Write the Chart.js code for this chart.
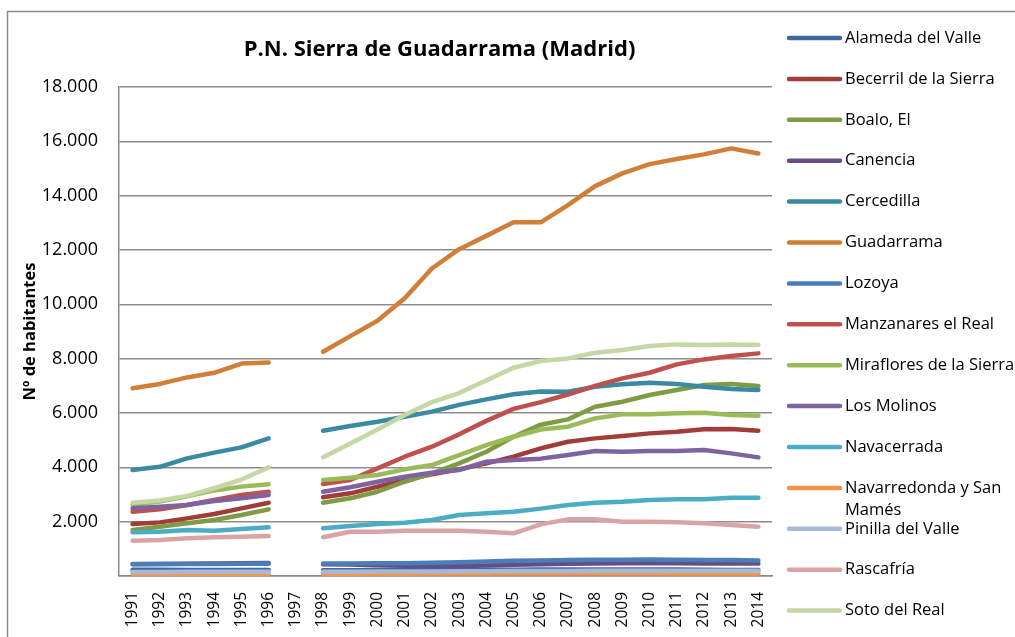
<!DOCTYPE html>
<html>
<head>
<meta charset="utf-8">
<script src="https://cdn.jsdelivr.net/npm/chart.js@4.4.0/dist/chart.umd.min.js"></script>
<style>
  html, body { margin: 0; padding: 0; background: #fff; }
  #c { display: block; }
</style>
</head>
<body>
<canvas id="c" width="1015" height="637"></canvas>
<script>
// years on the x axis (1997 has no data -> gap)
const years = ['1991','1992','1993','1994','1995','1996','1997','1998','1999','2000','2001','2002',
  '2003','2004','2005','2006','2007','2008','2009','2010','2011','2012','2013','2014'];

const municipios = ['Alameda del Valle','Becerril de la Sierra','Boalo, El','Canencia','Cercedilla',
  'Guadarrama','Lozoya','Manzanares el Real','Miraflores de la Sierra','Los Molinos','Navacerrada',
  'Navarredonda y San Mamés','Pinilla del Valle','Rascafría','Soto del Real'];

const colores = ['#3d69a0','#a03d3b','#7f9c45','#664d85','#3a8ba1','#d17e38','#4a7ebb','#c0504d',
  '#9bbb59','#7f63a1','#4bacc6','#f79646','#a7b9d9','#d9a5a4','#c4d7a4'];

const alameda      = [230,230,225,225,220,220,null,215,215,220,220,225,225,230,230,235,235,240,240,235,235,230,225,220];
const becerril     = [1914,1974,2122,2282,2490,2697,null,2896,3043,3286,3533,3742,3926,4147,4391,4700,4943,5066,5152,5250,5311,5398,5410,5348];
const boalo        = [1693,1815,1938,2061,2245,2454,null,2698,2859,3102,3470,3779,4147,4574,5126,5570,5766,6230,6414,6661,6845,7029,7066,6992];
const canencia     = [430,440,450,460,470,480,null,430,420,400,380,370,370,390,410,430,450,460,470,470,465,460,460,460];
const cercedilla   = [3900,4020,4330,4540,4735,5065,null,5348,5520,5680,5863,6050,6300,6500,6690,6790,6784,6966,7060,7110,7066,6970,6880,6845];
const guadarrama   = [6910,7070,7310,7480,7820,7860,null,8255,8830,9395,10220,11320,12030,12520,13020,13020,13650,14350,14820,15160,15350,15520,15740,15555];
const lozoya       = [440,440,445,445,450,450,null,460,460,465,470,490,510,530,560,575,585,595,600,605,600,590,585,570];
const manzanares   = [2367,2454,2613,2797,2981,3103,null,3386,3533,3963,4391,4759,5214,5710,6150,6400,6680,7000,7274,7482,7790,7973,8096,8195];
const miraflores   = [2620,2740,2930,3150,3290,3375,null,3533,3618,3717,3926,4085,4453,4821,5126,5390,5495,5803,5950,5950,5987,6011,5925,5900];
const molinos      = [2490,2550,2613,2760,2859,2981,null,3102,3264,3470,3654,3801,3901,4206,4269,4320,4453,4600,4574,4600,4600,4637,4514,4367];
const navacerrada  = [1608,1630,1692,1667,1730,1792,null,1755,1840,1914,1962,2061,2245,2306,2367,2480,2613,2698,2735,2797,2821,2821,2882,2882];
const navarredonda = [80,80,80,80,80,80,null,80,80,85,85,90,90,95,100,100,100,100,100,100,95,95,95,90];
const pinilla      = [150,150,155,155,160,160,null,160,160,165,165,170,175,175,180,185,185,190,190,190,190,190,190,190];
const rascafria    = [1300,1325,1386,1422,1447,1472,null,1424,1630,1630,1667,1667,1667,1630,1571,1900,2085,2085,1998,1998,1974,1938,1877,1815];
const soto         = [2700,2780,2950,3230,3550,4000,null,4370,4880,5390,5925,6400,6735,7200,7666,7912,8010,8218,8317,8464,8526,8500,8526,8501];

const series = [alameda, becerril, boalo, canencia, cercedilla, guadarrama, lozoya, manzanares,
  miraflores, molinos, navacerrada, navarredonda, pinilla, rascafria, soto];

const yTicks = [0,2000,4000,6000,8000,10000,12000,14000,16000,18000];

const FONT = '"Open Sans", sans-serif';
const miles = (v) => String(v).replace(/\B(?=(\d{3})+(?!\d))/g, '.');

// frame + white background
const framePlugin = {
  id: 'frame',
  beforeDraw(chart){
    const ctx = chart.ctx; ctx.save();
    ctx.fillStyle = '#fff'; ctx.fillRect(0,0,chart.width,chart.height);
    ctx.strokeStyle = '#8a8a8a'; ctx.lineWidth = 1.5;
    ctx.strokeRect(7.5, 11.5, 1100, 700);
    ctx.restore();
  }
};

// title centred over the plot area
const titlePlugin = {
  id: 'plotTitle',
  afterDraw(chart){
    const ctx = chart.ctx, a = chart.chartArea; ctx.save();
    ctx.font = 'bold 22px ' + FONT; ctx.fillStyle = '#000';
    ctx.textAlign = 'center'; ctx.textBaseline = 'middle';
    ctx.fillText('P.N. Sierra de Guadarrama (Madrid)', (a.left + a.right)/2 - 6, 50);
    ctx.restore();
  }
};

// legend on the right with fixed spacing, long names wrap
const sideLegend = {
  id: 'sideLegend',
  afterDraw(chart){
    const ctx = chart.ctx; ctx.save();
    ctx.font = '16.5px ' + FONT; ctx.textBaseline = 'middle'; ctx.textAlign = 'left';
    chart.data.datasets.forEach((ds, i) => {
      const y = 38 + i*40.9;
      ctx.strokeStyle = ds.borderColor; ctx.lineWidth = 4.5; ctx.lineCap = 'round';
      ctx.beginPath(); ctx.moveTo(789, y); ctx.lineTo(840, y); ctx.stroke();
      ctx.fillStyle = '#000';
      const words = ds.label.split(' '); const lines = []; let cur = '';
      words.forEach(w => {
        const t = cur ? cur + ' ' + w : w;
        if (cur && ctx.measureText(t).width > 185) { lines.push(cur); cur = w; } else cur = t;
      });
      lines.push(cur);
      lines.forEach((l, k) => ctx.fillText(l, 845, y + k*22));
    });
    ctx.restore();
  }
};

new Chart(document.getElementById('c'), {
  type: 'line',
  data: {
    labels: years,
    datasets: municipios.map((m, i) => ({
      label: m,
      data: series[i],
      borderColor: colores[i],
      backgroundColor: colores[i],
      borderWidth: 4.5,
      pointRadius: 0,
      tension: 0,
      borderCapStyle: 'round',
      borderJoinStyle: 'round',
      spanGaps: false,
      fill: false,
      order: municipios.length - i
    }))
  },
  options: {
    responsive: false,
    animation: false,
    layout: { padding: { left: 10, top: 87, right: 243, bottom: 0 } },
    plugins: { legend: { display: false }, title: { display: false }, tooltip: { enabled: false } },
    scales: {
      x: {
        type: 'category',
        offset: true,
        grid: { display: false },
        border: { color: '#8a8a8a', width: 1.5 },
        ticks: { font: { family: FONT, size: 15.5 }, color: '#000', minRotation: 90, maxRotation: 90, padding: 8, autoSkip: false },
        afterFit: (s) => { s.height = 61; }
      },
      y: {
        min: 0, max: 18000,
        afterBuildTicks: (s) => { s.ticks = yTicks.map(v => ({ value: v })); },
        ticks: { font: { family: FONT, size: 18 }, color: '#000', padding: 21, callback: (v) => v === 0 ? '' : miles(v) },
        grid: { color: '#8c8c8c', lineWidth: 1.5, drawTicks: false },
        border: { color: '#8a8a8a', width: 1.5 },
        title: { display: true, text: 'Nº de habitantes', color: '#000', font: { family: FONT, size: 16.5, weight: 'bold' }, padding: { top: 10, bottom: 0 } },
        afterFit: (s) => { s.width = 109; }
      }
    }
  },
  plugins: [framePlugin, titlePlugin, sideLegend]
});
</script>
</body>
</html>
